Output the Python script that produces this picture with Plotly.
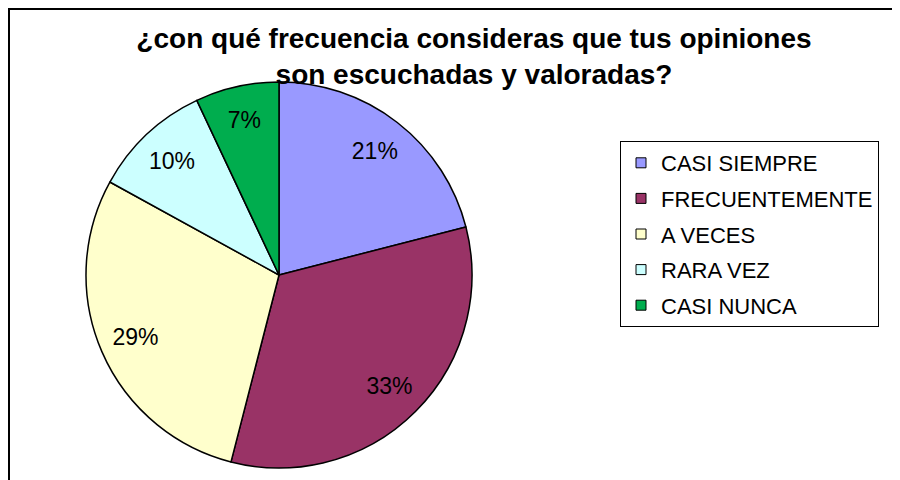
import plotly.graph_objects as go

categories = ["CASI SIEMPRE", "FRECUENTEMENTE", "A VECES", "RARA VEZ", "CASI NUNCA"]
values = [21, 33, 29, 10, 7]
colors = ["#9999FF", "#993366", "#FFFFCC", "#CCFFFF", "#00AD4E"]
title_text = "¿con qué frecuencia consideras que tus opiniones<br>son escuchadas y valoradas?"

W, H = 900, 480
cx, cy, r = 271, 267, 193
dom = dict(x=[(cx - r) / W, (cx + r) / W], y=[(H - cy - r) / H, (H - cy + r) / H])

fig = go.Figure()
# the pie itself
fig.add_trace(go.Pie(
    labels=categories,
    values=values,
    sort=False,
    direction="clockwise",
    rotation=0,
    marker=dict(colors=colors, line=dict(color="black", width=1.5)),
    textinfo="none",
    hoverinfo="label+percent",
    showlegend=False,
    domain=dom,
))
# transparent ring carrying the data labels toward the outer edge
fig.add_trace(go.Pie(
    labels=categories,
    values=values,
    sort=False,
    direction="clockwise",
    rotation=0,
    hole=0.62,
    marker=dict(colors=["rgba(0,0,0,0)"] * len(values), line=dict(width=0)),
    texttemplate="%{value}%",
    textposition="inside",
    insidetextorientation="horizontal",
    textfont=dict(family="Liberation Sans, Arial", size=23, color="black"),
    hoverinfo="skip",
    showlegend=False,
    domain=dom,
))

# legend entries (one group per category for spacing)
for cat, col in zip(categories, colors):
    fig.add_trace(go.Scatter(
        x=[None], y=[None], mode="markers", name=cat, legendgroup=cat,
        marker=dict(symbol="square", size=10, color=col,
                    line=dict(color="black", width=1)),
        showlegend=True, hoverinfo="skip",
    ))

fig.update_layout(
    width=W, height=H,
    margin=dict(l=0, r=0, t=0, b=0),
    paper_bgcolor="white",
    plot_bgcolor="white",
    xaxis=dict(visible=False),
    yaxis=dict(visible=False),
    title=dict(text=title_text, x=466 / W, xanchor="center",
               y=1 - 40 / H, yanchor="middle",
               font=dict(family="Liberation Sans, Arial", size=28, color="black",
                         weight="bold")),
    legend=dict(x=612 / W, y=1 - 133 / H, xanchor="left", yanchor="top",
                bordercolor="black", borderwidth=1, bgcolor="white",
                font=dict(family="Liberation Sans, Arial", size=22, color="black"),
                tracegroupgap=4, itemwidth=30, traceorder="grouped"),
    shapes=[dict(type="rect", xref="paper", yref="paper",
                 x0=1 / W, x1=1.2, y0=-0.1, y1=1 - 1 / H,
                 line=dict(color="black", width=2), fillcolor="rgba(0,0,0,0)",
                 layer="below")],
)

fig.write_html("out.html")
